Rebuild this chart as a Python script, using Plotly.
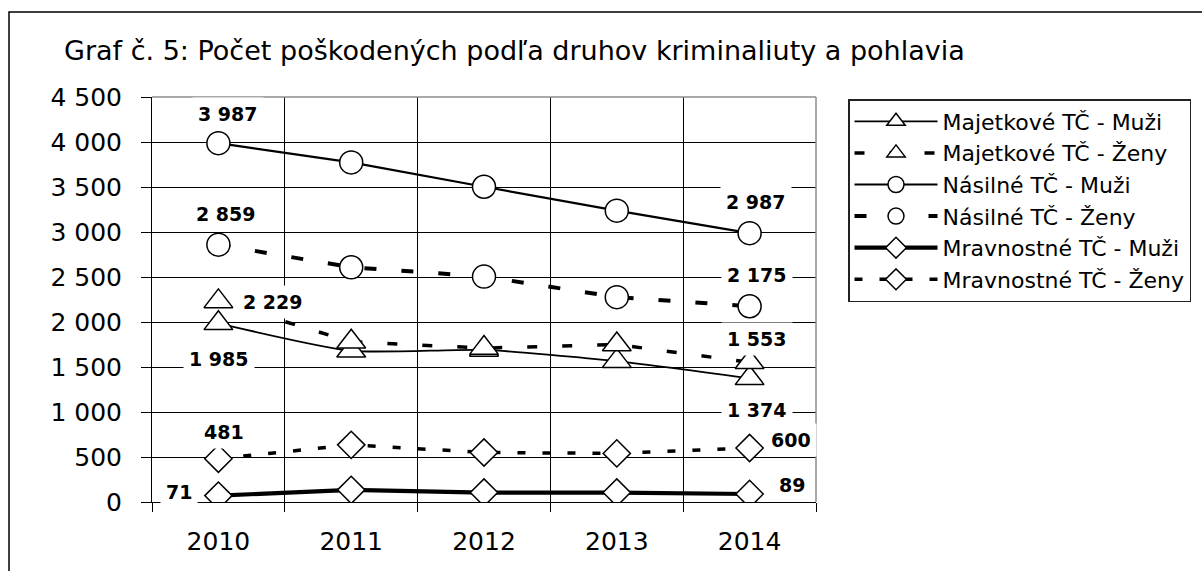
import plotly.graph_objects as go

# ---- data ----
years = ["2010", "2011", "2012", "2013", "2014"]
majetkove_muzi = [1985, 1680, 1690, 1565, 1374]
majetkove_zeny = [2229, 1780, 1710, 1750, 1553]
nasilne_muzi = [3987, 3773, 3503, 3237, 2987]
nasilne_zeny = [2859, 2608, 2505, 2276, 2175]
mravnostne_muzi = [71, 135, 105, 105, 89]
mravnostne_zeny = [481, 635, 550, 540, 600]

series_names = [
    "Majetkové TČ - Muži", "Majetkové TČ - Ženy",
    "Násilné TČ - Muži", "Násilné TČ - Ženy",
    "Mravnostné TČ - Muži", "Mravnostné TČ - Ženy",
]
y_ticks = [0, 500, 1000, 1500, 2000, 2500, 3000, 3500, 4000, 4500]
title_text = "Graf č. 5: Počet poškodených podľa druhov kriminaliuty a pohlavia"

FONT = "DejaVu Sans"
W, H = 1202, 571
L, R, T, B = 152, 816, 97, 502  # plot area pixels

def px_x(px):
    return (px - L) / (R - L)

def px_y(py):
    return (B - py) / (B - T)

styles = [
    dict(values=majetkove_muzi, symbol="triangle-up", size=25, width=1.8, dash="solid", shape="spline"),
    dict(values=majetkove_zeny, symbol="triangle-up", size=25, width=3.5, dash="10px,25px", shape="linear"),
    dict(values=nasilne_muzi, symbol="circle", size=23, width=2.2, dash="solid", shape="linear"),
    dict(values=nasilne_zeny, symbol="circle", size=23, width=4, dash="12px,25px", shape="linear"),
    dict(values=mravnostne_muzi, symbol="diamond", size=21, width=4.2, dash="solid", shape="linear"),
    dict(values=mravnostne_zeny, symbol="diamond", size=21, width=3.5, dash="8px,17px", shape="linear"),
]

fig = go.Figure()
for i, (name, st) in enumerate(zip(series_names, styles)):
    fig.add_trace(go.Scatter(
        x=years, y=st["values"], name=name, mode="lines+markers",
        legendgroup=f"g{i}",
        line=dict(color="black", width=st["width"], dash=st["dash"], shape=st["shape"],
                  smoothing=0.6),
        marker=dict(symbol=st["symbol"], size=st["size"], color="white",
                    line=dict(color="black", width=1.5)),
        hoverinfo="skip",
    ))

def fmt(v):
    return f"{v:,}".replace(",", " ")

# data labels: (series values, index, xshift, yshift)
label_specs = [
    (nasilne_muzi, 0, 10, 29), (nasilne_muzi, 4, 6, 31),
    (nasilne_zeny, 0, 8, 31), (nasilne_zeny, 4, 7, 31),
    (majetkove_zeny, 0, 55, -1), (majetkove_zeny, 4, 7, 23),
    (majetkove_muzi, 0, 1, -36), (majetkove_muzi, 4, 7, -32),
    (mravnostne_zeny, 0, 6, 27), (mravnostne_zeny, 4, 41, 8),
    (mravnostne_muzi, 0, -39, 4), (mravnostne_muzi, 4, 42, 9),
]
annotations = []
for vals, idx, xs, ys in label_specs:
    annotations.append(dict(
        x=idx, y=vals[idx], xref="x", yref="y", text=fmt(vals[idx]),
        showarrow=False, xshift=xs, yshift=ys,
        font=dict(family=FONT, size=19, color="black", weight="bold"),
        bgcolor="white", borderpad=5,
    ))

shapes = [
    # outer chart border (top and left visible)
    dict(type="rect", xref="paper", yref="paper",
         x0=px_x(9), x1=px_x(1215), y0=px_y(600), y1=px_y(12),
         line=dict(color="black", width=1.5), layer="below"),
    # plot-area border top & right (gray)
    dict(type="line", xref="x domain", yref="y domain", x0=0, x1=1, y0=1, y1=1,
         line=dict(color="#8c8c8c", width=1.5), layer="above"),
    dict(type="line", xref="x domain", yref="y domain", x0=1, x1=1, y0=0, y1=1,
         line=dict(color="#8c8c8c", width=1.5), layer="above"),
]

fig.update_layout(
    width=W, height=H,
    margin=dict(l=L, r=W - R, t=T, b=H - B, autoexpand=False),
    paper_bgcolor="white", plot_bgcolor="white",
    separators=", ",
    font=dict(family=FONT, color="black"),
    title=dict(text=title_text, xref="container", yref="container",
               x=64 / W, xanchor="left", y=1 - 51 / H, yanchor="middle",
               font=dict(family=FONT, size=27, color="black")),
    showlegend=True,
    legend=dict(x=px_x(848), y=px_y(99), xanchor="left", yanchor="top",
                bordercolor="#222222", borderwidth=1.5, bgcolor="white",
                font=dict(family=FONT, size=22, color="black"),
                itemwidth=83, itemsizing="trace", tracegroupgap=3,
                traceorder="normal"),
    xaxis=dict(type="category", range=[-0.5, 4.5], tickson="boundaries", showgrid=True,
               gridcolor="black", gridwidth=1, ticks="outside", ticklen=9,
               tickcolor="black", showline=True, linecolor="black", linewidth=1,
               tickfont=dict(family=FONT, size=25, color="black"), tickangle=0,
               ticklabelstandoff=17, fixedrange=True),
    yaxis=dict(range=[0, 4500], tickvals=y_ticks, tickformat=",d",
               showgrid=True, gridcolor="black", gridwidth=1, zeroline=False,
               ticks="outside", ticklen=10, tickcolor="black",
               showline=True, linecolor="black", linewidth=1,
               tickfont=dict(family=FONT, size=25, color="black"),
               ticklabelstandoff=14, fixedrange=True),
    annotations=annotations,
    shapes=shapes,
)

fig.write_html("out.html", config={"displayModeBar": False},
               post_script="document.body.style.margin='0';")
